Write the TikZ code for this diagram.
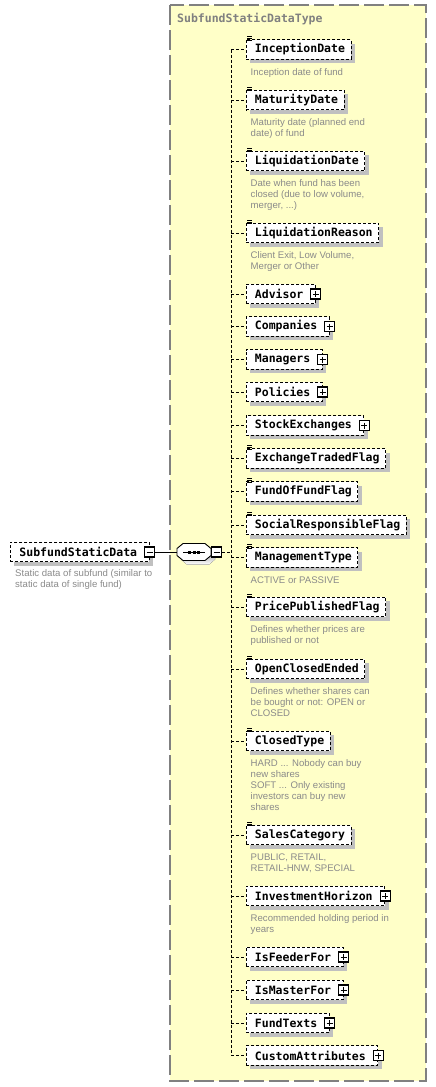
\documentclass[tikz,border=0pt]{standalone}
\usepackage{fontspec}
\usetikzlibrary{positioning,shadows}
\newfontfamily\namefont{DejaVu Sans Mono}
\newfontfamily\notefont{Liberation Sans}
\definecolor{typebg}{HTML}{FFFFC8}
\definecolor{typeframe}{HTML}{808080}
\definecolor{notegray}{HTML}{8A8A8A}
\definecolor{shade}{HTML}{C0C0C0}

% small "documentation" mark at the top left corner of an element
\newcommand{\docmark}[1]{%
  \foreach \k in {0,1.6,3.2}
    \draw[line width=0.55pt] ([xshift=1.5pt,yshift={(2.6-\k)*1pt}]#1.north west) -- ++(4.5,0);}
% outline of the sequence compositor round node #1
\newcommand{\chamfer}[1]{([xshift=6pt]#1.north west) -- ([xshift=-6pt]#1.north east) -- ([yshift=-5pt]#1.north east)
  -- ([yshift=5pt]#1.south east) -- ([xshift=-6pt]#1.south east) -- ([xshift=6pt]#1.south west)
  -- ([yshift=5pt]#1.south west) -- ([yshift=-5pt]#1.north west) -- cycle}

\begin{document}
\begin{tikzpicture}[
  x=1pt, y=-1pt,
  frame/.style={draw=typeframe, fill=typebg, dash pattern=on 20pt off 5pt, line width=1.2pt},
  typetitle/.style={font=\namefont\bfseries\fontsize{11.5}{13}\selectfont, text=typeframe, inner sep=0pt, anchor=west},
  elem/.style={draw, dash pattern=on 3pt off 2pt, line width=0.9pt, fill=white, minimum height=19.5pt,
    inner ysep=0pt, inner xsep=6pt, anchor=west, font=\namefont\bfseries\fontsize{11.5}{13}\selectfont,
    execute at begin node={\hspace*{3pt}},
    drop shadow={shadow xshift=4pt, shadow yshift=-4pt, fill=shade, opacity=1}},
  kids/.style={elem, execute at end node={\hspace*{6pt}}},
  note/.style={font=\notefont\fontsize{9.6}{11}\selectfont, text=notegray, align=left, inner sep=0pt},
  expander/.style={draw, line width=1.1pt, fill=white, minimum size=10pt, inner sep=0pt,
    path picture={\draw[line width=0.8pt] ([xshift=2pt]path picture bounding box.west) -- ([xshift=-2pt]path picture bounding box.east)
      ([yshift=-2pt]path picture bounding box.north) -- ([yshift=2pt]path picture bounding box.south);}},
  collapser/.style={draw, line width=1.1pt, fill=white, minimum size=10pt, inner sep=0pt,
    path picture={\draw[line width=0.8pt] ([xshift=2pt]path picture bounding box.west) -- ([xshift=-2pt]path picture bounding box.east);}},
  seqbox/.style={minimum width=34pt, minimum height=17pt, inner sep=0pt, outer sep=0pt},
  link/.style={dash pattern=on 3pt off 2pt, line width=0.9pt},
  wire/.style={line width=0.9pt}
]
  \useasboundingbox (0,0) rectangle (436,1087);

  % complex type frame
  \draw[frame] (170,5) rectangle (426,1081);
  \node[typetitle] (tname) at (177,19) {SubfundStaticDataType};

  % root element
  \node[kids] (root) at (10,552) {SubfundStaticData};
  \node[collapser] (rmin) at (root.east) {};
  \node[note, anchor=north west] (rootnote) at (15,569) {Static data of subfund (similar to\\static data of single fund)};

  % sequence
  \node[seqbox] (seq) at (194,552) {};
  \fill[shade, transform canvas={shift={(4pt,-4pt)}}] \chamfer{seq};
  \draw[wire, fill=white] \chamfer{seq};
  \draw[wire] ([xshift=-11pt]seq.center) -- ([xshift=11pt]seq.center);
  \foreach \d in {-4.5,0,4.5}
    \fill ([xshift=\d pt]seq.center) +(-1.5,-1.5) rectangle +(1.5,1.5);
  \node[collapser, right=0pt of seq] (smin) {};
  \draw[wire] (rmin.east) -- (seq.west);
  \coordinate (bus) at (231,552);

  % children
  \node[elem] (incep) at (245.5,49.5) {InceptionDate};
  \node[note, below right=8.5pt and 5pt of incep.south west] (incepnote) {Inception date of fund};
  \node[elem] (matur) at (245.5,100) {MaturityDate};
  \node[note, below right=8.5pt and 5pt of matur.south west] (maturnote) {Maturity date (planned end\\date) of fund};
  \node[elem] (liqdate) at (245.5,161) {LiquidationDate};
  \node[note, below right=8.5pt and 5pt of liqdate.south west] (liqdatenote) {Date when fund has been\\closed (due to low volume,\\merger, ...)};
  \node[elem] (liqreas) at (245.5,233) {LiquidationReason};
  \node[note, below right=8.5pt and 5pt of liqreas.south west] (liqreasnote) {Client Exit, Low Volume,\\Merger or Other};
  \node[kids] (advisor) at (245.5,294) {Advisor};
  \node[kids] (compan) at (245.5,326.5) {Companies};
  \node[kids] (managers) at (245.5,359.5) {Managers};
  \node[kids] (policies) at (245.5,392) {Policies};
  \node[kids] (stockex) at (245.5,425.5) {StockExchanges};
  \node[elem] (etf) at (245.5,458.5) {ExchangeTradedFlag};
  \node[elem] (fof) at (245.5,491.5) {FundOfFundFlag};
  \node[elem] (srf) at (245.5,525) {SocialResponsibleFlag};
  \node[elem] (mgmt) at (245.5,557.5) {ManagementType};
  \node[note, below right=8.5pt and 5pt of mgmt.south west] (mgmtnote) {ACTIVE or PASSIVE};
  \node[elem] (ppf) at (245.5,607) {PricePublishedFlag};
  \node[note, below right=8.5pt and 5pt of ppf.south west] (ppfnote) {Defines whether prices are\\published or not};
  \node[elem] (oce) at (245.5,669) {OpenClosedEnded};
  \node[note, below right=8.5pt and 5pt of oce.south west] (ocenote) {Defines whether shares can\\be bought or not: OPEN or\\CLOSED};
  \node[elem] (closed) at (245.5,741) {ClosedType};
  \node[note, below right=8.5pt and 5pt of closed.south west] (closednote) {HARD ... Nobody can buy\\new shares\\SOFT ... Only existing\\investors can buy new\\shares};
  \node[elem] (sales) at (245.5,835) {SalesCategory};
  \node[note, below right=8.5pt and 5pt of sales.south west] (salesnote) {PUBLIC, RETAIL,\\RETAIL-HNW, SPECIAL};
  \node[kids] (horizon) at (245.5,896) {InvestmentHorizon};
  \node[note, below right=8.5pt and 5pt of horizon.south west] (horizonnote) {Recommended holding period in\\years};
  \node[kids] (feeder) at (245.5,957) {IsFeederFor};
  \node[kids] (master) at (245.5,990) {IsMasterFor};
  \node[kids] (texts) at (245.5,1023) {FundTexts};
  \node[kids] (custom) at (245.5,1055.5) {CustomAttributes};

  \foreach \n in {incep,matur,liqdate,liqreas,etf,fof,srf,mgmt,ppf,oce,closed,sales}
    \docmark{\n};
  \foreach \n in {advisor,compan,managers,policies,stockex,horizon,feeder,master,texts,custom}
    \node[expander] (\n-exp) at (\n.east) {};

  % connectors
  \draw[link] (smin.east) -- (bus);
  \draw[link] (bus |- incep.west) -- (bus |- custom.west);
  \foreach \n in {incep,matur,liqdate,liqreas,advisor,compan,managers,policies,stockex,etf,fof,srf,
                  mgmt,ppf,oce,closed,sales,horizon,feeder,master,texts,custom}
    \draw[link] (bus |- \n.west) -- (\n.west);
\end{tikzpicture}
\end{document}
